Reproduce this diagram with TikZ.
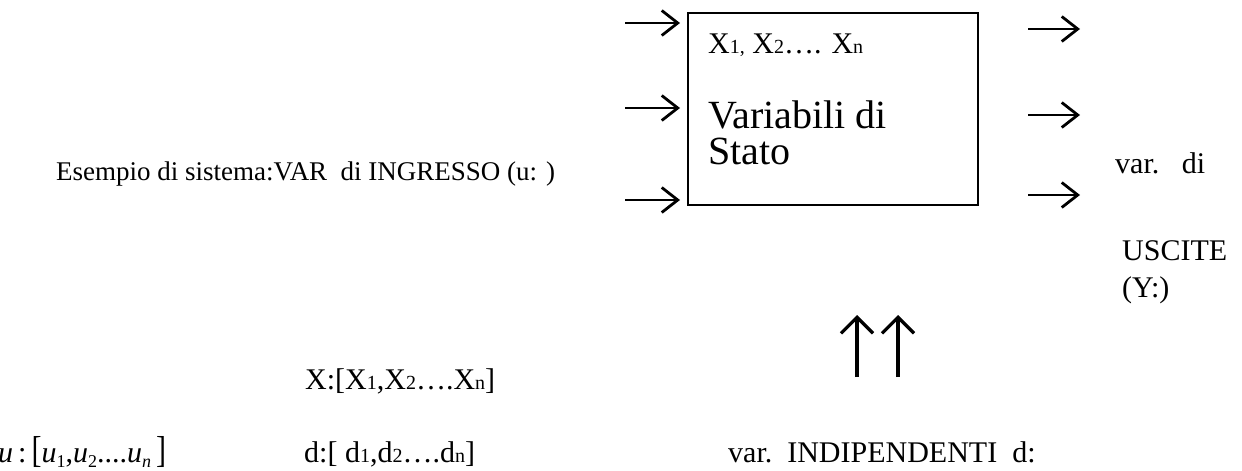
\documentclass[tikz,border=0pt]{standalone}
\usepackage{fontspec}
\setmainfont{Liberation Serif}
\usetikzlibrary{arrows.meta}
\newcommand{\sm}[1]{{\fontsize{20}{20}\selectfont #1}}
\newcommand{\smm}[1]{{\fontsize{18}{18}\selectfont #1}}
\tikzset{
  txt/.style={anchor=base west, inner sep=0pt, font=\fontsize{30}{36}\selectfont},
  maintxt/.style={anchor=base west, inner sep=0pt, font=\fontsize{27}{32}\selectfont},
  bigtxt/.style={anchor=base west, inner sep=0pt, font=\fontsize{40}{40}\selectfont},
  harrow/.style={line width=2.8pt, -{Straight Barb[length=16pt,width=25pt,line width=2.8pt]}},
  varrow/.style={line width=3.2pt, -{Straight Barb[length=16pt,width=32pt,line width=3.2pt]}},
  sysbox/.style={draw, line width=1.4pt, minimum width=290pt, minimum height=192pt, inner sep=0pt}
}
\begin{document}
\begin{tikzpicture}[x=1pt,y=-1pt]
\useasboundingbox (0,0) rectangle (1242,471);
% box
\node[sysbox] (box) at (833,109) {};
\node[txt] (xs) at (708,53) {X\sm{1,} X\sm{2}…. X\sm{n}};
\node[bigtxt] (v1) at (708,128) {Variabili di};
\node[bigtxt] (v2) at (708,164) {Stato};
% input arrows
\coordinate (i1s) at (625,23);  \coordinate (i1e) at (680,23);
\coordinate (i2s) at (625,108); \coordinate (i2e) at (680,108);
\coordinate (i3s) at (625,200); \coordinate (i3e) at (680,200);
\draw[harrow] (i1s) -- (i1e);
\draw[harrow] (i2s) -- (i2e);
\draw[harrow] (i3s) -- (i3e);
% output arrows
\coordinate (o1s) at (1028,29);  \coordinate (o1e) at (1080,29);
\coordinate (o2s) at (1028,115); \coordinate (o2e) at (1080,115);
\coordinate (o3s) at (1028,195); \coordinate (o3e) at (1080,195);
\draw[harrow] (o1s) -- (o1e);
\draw[harrow] (o2s) -- (o2e);
\draw[harrow] (o3s) -- (o3e);
% up arrows
\coordinate (u1s) at (857,377); \coordinate (u1e) at (857,315);
\coordinate (u2s) at (898,377); \coordinate (u2e) at (898,315);
\draw[varrow] (u1s) -- (u1e);
\draw[varrow] (u2s) -- (u2e);
% texts
\node[maintxt] (es) at (56,180) {Esempio di sistema:VAR\ \ di INGRESSO (u: )};
\node[txt] (vd) at (1115,173) {var.\ \ \ di};
\node[txt] (usc) at (1122,260) {USCITE};
\node[txt] (yy) at (1122,297) {(Y:)};
\node[txt] (xv) at (305,389) {X:[X\sm{1},X\sm{2}….X\sm{n}]};
\node[txt] (dv) at (304,462) {d:[ d\sm{1},d\sm{2}….d\sm{n}]};
\node[txt] (ind) at (728,462) {var.\ \ INDIPENDENTI\ \ d:};
\node[txt] (uv) at (-2,462) {\textit{u}\,:\,\scalebox{1}[1.25]{[}\textit{u}\raisebox{-5pt}{\smm{1}},\textit{u}\raisebox{-5pt}{\smm{2}}....\textit{u}\raisebox{-5pt}{\smm{\textit{n}}}\,\scalebox{1}[1.25]{]}};
\end{tikzpicture}
\end{document}
